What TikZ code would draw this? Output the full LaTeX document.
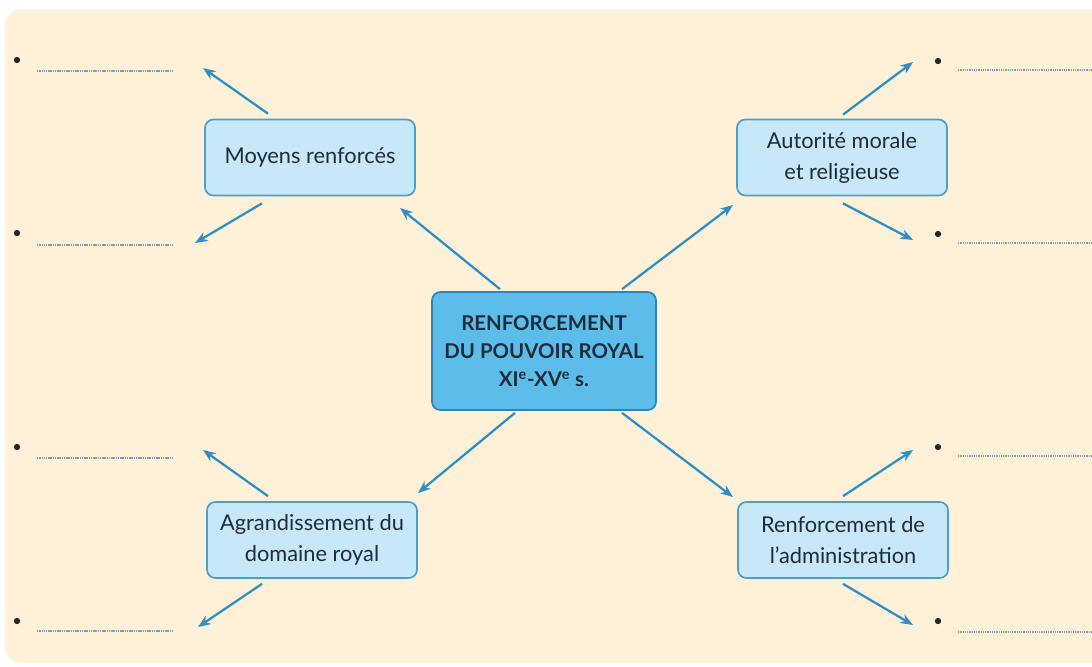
\documentclass[tikz,border=0pt]{standalone}
\usepackage{fontspec}
\setmainfont{Lato}
\usetikzlibrary{arrows.meta, positioning}
\definecolor{creme}{HTML}{FEF1D8}
\definecolor{bleuclair}{HTML}{C6E8F9}
\definecolor{bleumoyen}{HTML}{5CBDEB}
\definecolor{bordbleu}{HTML}{4A9FCF}
\definecolor{bordfonce}{HTML}{2F84BA}
\definecolor{fleche}{HTML}{2C90C6}
\definecolor{encre}{HTML}{1F2C3A}
\definecolor{tirets}{HTML}{8A9AAE}

\begin{document}
\begin{tikzpicture}[x=0.025cm, y=-0.025cm,
  trait/.style={draw=fleche, line width=1.6pt, -{Stealth[length=9pt,width=7pt]}},
  boite/.style={draw=bordbleu, fill=bleuclair, line width=1.2pt, rounded corners=6pt,
    minimum width=5.25cm, minimum height=1.9cm, align=center, text=encre,
    font=\fontsize{15.5}{22}\selectfont},
  centre/.style={boite, fill=bleumoyen, draw=bordfonce, minimum width=5.6cm,
    minimum height=2.95cm, font=\bfseries\fontsize{14.5}{20}\selectfont},
  puce/.style={circle, fill=black!85, inner sep=0pt, minimum size=4.5pt},
  pointilles/.style={draw=tirets, line width=0.9pt, dash pattern=on 0.9pt off 0.7pt}]

\useasboundingbox (0,0) rectangle (1092,666);
\fill[creme, rounded corners=12pt] (5,9) rectangle (1120,663);

% boites
\node[centre] (ctr) at (544,351) {RENFORCEMENT\\DU POUVOIR ROYAL\\XI\textsuperscript{e}-XV\textsuperscript{e} s.};
\node[boite] (moy) at (310,157.5) {Moyens renforcés};
\node[boite] (aut) at (842,157.5) {Autorité morale\\et religieuse};
\node[boite] (agr) at (312,540) {Agrandissement du\\domaine royal};
\node[boite] (ren) at (843,540) {Renforcement de\\l’administration};

% puces et pointilles
\foreach \n/\yb/\yl in {a/60/71, b/233/245, c/447/458, d/621/631}{
  \node[puce] (pg\n) at (17,\yb) {};
  \coordinate (lg\n) at (37,\yl);
  \coordinate (mg\n) at (173,\yl);
  \draw[pointilles] (lg\n) -- (mg\n);
}
\foreach \n/\yb/\yl in {a/61/70, b/234/243, c/447/456, d/621/632}{
  \node[puce] (pd\n) at (938,\yb) {};
  \coordinate (ld\n) at (958,\yl);
  \coordinate (md\n) at (1092,\yl);
  \draw[pointilles] (ld\n) -- (md\n);
}

% pointes des fleches
\coordinate (cmoy) at (400,208);
\coordinate (caut) at (733,205);
\coordinate (cagr) at (418,493);
\coordinate (cren) at (733,497);
\coordinate (tga) at (203,68);
\coordinate (tgb) at (195,243);
\coordinate (tgc) at (203,450);
\coordinate (tgd) at (198,627);
\coordinate (tda) at (913,62);
\coordinate (tdb) at (913,240);
\coordinate (tdc) at (913,450);
\coordinate (tdd) at (913,625);

% fleches du centre
\draw[trait] ([shift={(-44,-2)}]ctr.north) -- (cmoy);
\draw[trait] ([shift={(78,-2)}]ctr.north) -- (caut);
\draw[trait] ([shift={(-29,2)}]ctr.south) -- (cagr);
\draw[trait] ([shift={(78,2)}]ctr.south) -- (cren);

% fleches vers les puces
\draw[trait] ([shift={(-42,-5)}]moy.north) -- (tga);
\draw[trait] ([shift={(-48,7)}]moy.south) -- (tgb);
\draw[trait] ([shift={(1,-4)}]aut.north) -- (tda);
\draw[trait] ([shift={(1,7)}]aut.south) -- (tdb);
\draw[trait] ([shift={(-44,-5)}]agr.north) -- (tgc);
\draw[trait] ([shift={(-50,5)}]agr.south) -- (tgd);
\draw[trait] ([shift={(0,-5)}]ren.north) -- (tdc);
\draw[trait] ([shift={(0,5)}]ren.south) -- (tdd);

\end{tikzpicture}
\end{document}
